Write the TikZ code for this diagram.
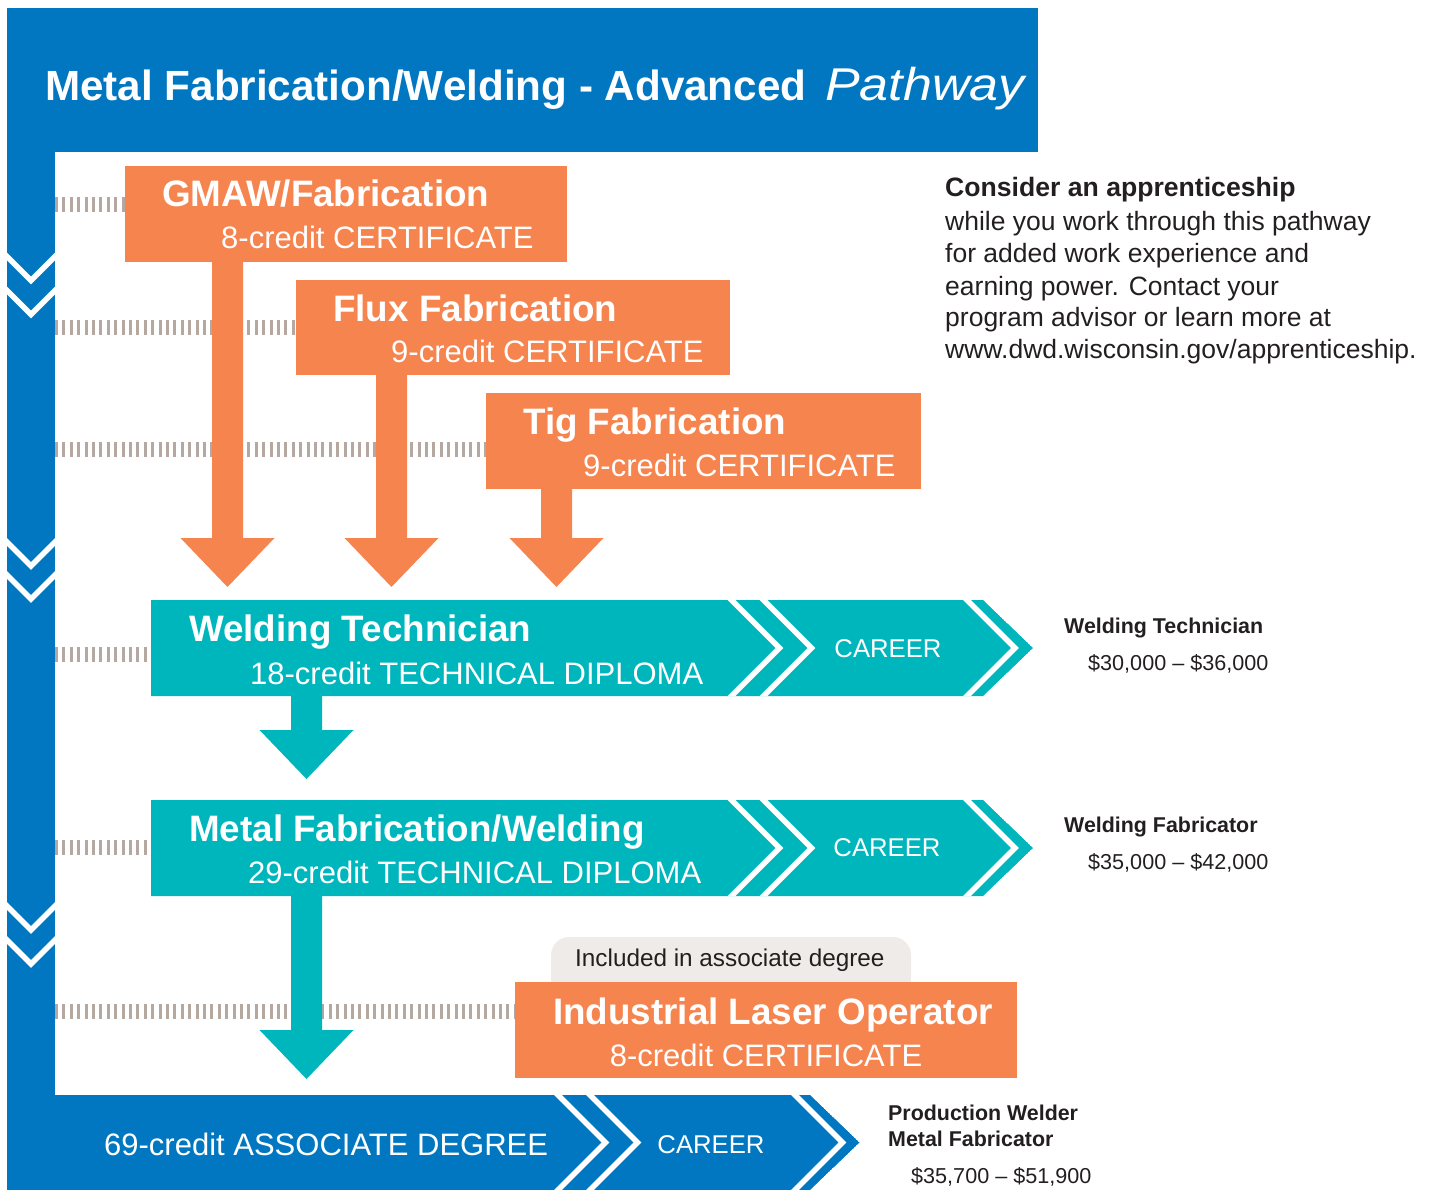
\documentclass[tikz,border=0pt]{standalone}
\usepackage{fontspec}
\setmainfont{Liberation Sans}
\newfontfamily\pathfont{Liberation Sans}[FakeStretch=1.13]
\usetikzlibrary{calc}
\definecolor{blueC}{RGB}{0,119,192}
\definecolor{orangeC}{RGB}{245,132,78}
\definecolor{tealC}{RGB}{0,182,189}
\definecolor{tickC}{RGB}{181,168,160}
\definecolor{pillC}{RGB}{239,235,232}
\definecolor{darkC}{RGB}{35,31,32}
\newcommand\darrow[3]{\fill[#1] let \p1=(#2), \p2=(#3) in
  (\x2-15.5pt,\y1) -- (\x2+15.5pt,\y1) -- (\x2+15.5pt,\y2+49pt) -- (\x2+47pt,\y2+49pt)
  -- (\x2,\y2) -- (\x2-47pt,\y2+49pt) -- (\x2-15.5pt,\y2+49pt) -- cycle;}
\begin{document}
\begin{tikzpicture}[x=1pt,y=-1pt,
  box/.style={inner sep=0pt, outer sep=0pt, anchor=north west},
  obox/.style={box, fill=orangeC},
  ticks/.style={draw=tickC, line width=15pt, dash pattern=on 3pt off 4.4pt},
  chev/.style={draw=white, line width=5.5pt},
  ttl/.style={inner sep=0pt, anchor=base west, text=white, font=\fontsize{36.8}{40}\selectfont\bfseries},
  sub/.style={inner sep=0pt, anchor=base west, text=white, font=\fontsize{31}{34}\selectfont},
  career/.style={inner sep=0pt, anchor=base, text=white, font=\fontsize{25.7}{28}\selectfont},
  salh/.style={inner sep=0pt, anchor=base west, text=darkC, font=\fontsize{21.4}{24}\selectfont\bfseries},
  sal/.style={inner sep=0pt, anchor=base west, text=darkC, font=\fontsize{21.6}{24}\selectfont},
  body/.style={inner sep=0pt, anchor=base west, text=darkC, font=\fontsize{26.5}{30}\selectfont},
]
\useasboundingbox (0,0) rectangle (1437,1190);

% header
\node[box, fill=blueC, minimum width=1031pt, minimum height=144pt] (header) at (7,8) {};
\node[inner sep=0pt, anchor=base west, text=white, font=\fontsize{42.2}{46}\selectfont\bfseries] (title) at (45,101) {Metal Fabrication/Welding - Advanced};
\node[inner sep=0pt, anchor=base west, text=white, font=\pathfont\itshape\fontsize{46}{50}\selectfont] (pathw) at (825,101) {Pathway};

% left bar
\node[box, fill=blueC, minimum width=48pt, minimum height=948pt] (bar) at (7,152) {};
\begin{scope}
  \clip (bar.north west) rectangle (bar.south east);
  \foreach \y in {256.5,290.5,542,575,906,940}
    \draw[chev] (0,{\y-7}) -- (31,{\y+24}) -- (62,{\y-7});
\end{scope}

% boxes (invisible placeholders for names)
\node[box, minimum width=832pt, minimum height=96pt] (wt) at (151,600) {};
\node[box, minimum width=832pt, minimum height=96pt] (mf) at (151,800) {};
\node[box, minimum width=803pt, minimum height=95pt] (assoc) at (7,1095) {};
\node[box, minimum width=442pt, minimum height=96pt] (gmaw) at (125,166) {};
\node[box, minimum width=434pt, minimum height=95pt] (flux) at (296,280) {};
\node[box, minimum width=435pt, minimum height=96pt] (tig) at (486,393) {};
\node[box, minimum width=502pt, minimum height=96pt] (laser) at (515,982) {};

% tick rows
\draw[ticks] ($(bar.east |- gmaw.west)+(0,-9)$) -- ($(gmaw.west)+(0,-9)$);
\draw[ticks] (bar.east |- flux.west) -- (flux.west);
\draw[ticks] ($(bar.east |- tig.west)+(0,8)$) -- ($(tig.west)+(0,8)$);
\draw[ticks] ($(bar.east |- wt.west)+(0,6)$) -- ($(wt.west)+(0,6)$);
\draw[ticks] ($(bar.east |- mf.west)+(0,-1)$) -- ($(mf.west)+(0,-1)$);
\draw[ticks] ($(bar.east |- laser.west)+(0,-19)$) -- ($(laser.west)+(0,-19)$);

% pill
\node[box, fill=pillC, rounded corners=18pt, minimum width=360pt, minimum height=60pt] (pill) at (551,937) {};

% orange boxes
\fill[orangeC] (gmaw.north west) rectangle (gmaw.south east);
\fill[orangeC] (flux.north west) rectangle (flux.south east);
\fill[orangeC] (tig.north west) rectangle (tig.south east);
\fill[orangeC] (laser.north west) rectangle (laser.south east);

% arrows
\coordinate (t1) at ($(wt.north west)+(76.5,-13)$);
\coordinate (t2) at ($(wt.north west)+(240.5,-13)$);
\coordinate (t3) at ($(wt.north west)+(405.5,-13)$);
\coordinate (t4) at ($(mf.north west)+(155.5,-21)$);
\coordinate (t5) at ($(assoc.north west)+(299.5,-16)$);
\darrow{orangeC}{t1 |- gmaw.south}{t1}
\darrow{orangeC}{t2 |- flux.south}{t2}
\darrow{orangeC}{t3 |- tig.south}{t3}
\darrow{tealC}{t4 |- wt.south}{t4}
\darrow{tealC}{t5 |- mf.south}{t5}

% career bars
\foreach \n/\c/\la/\lb/\lc/\d in {wt/tealC/580.5/612.5/816/48, mf/tealC/580.5/612.5/816/48, assoc/blueC/551/583/788/47.5}{
  \begin{scope}
    \path[clip] (\n.north west) -- (\n.north east) -- ($(\n.east)+(\d+2,0)$) -- (\n.south east) -- (\n.south west) -- cycle;
    \fill[\c] (\n.north west) -- (\n.north east) -- ($(\n.east)+(\d+2,0)$) -- (\n.south east) -- (\n.south west) -- cycle;
    \begin{scope}[shift={(\n.north west)}]
      \foreach \lx in {\la,\lb,\lc}
        \draw[chev] ({\lx-12},-12) -- ({\lx+\d},\d) -- ({\lx-12},{2*\d+12});
    \end{scope}
  \end{scope}
}

% box texts
\node[ttl] (gmawT) at ($(gmaw.north west)+(37,41)$) {GMAW/Fabrication};
\node[sub] (gmawS) at ($(gmaw.north west)+(96,83)$) {8-credit CERTIFICATE};
\node[ttl] (fluxT) at ($(flux.north west)+(37,41)$) {Flux Fabrication};
\node[sub] (fluxS) at ($(flux.north west)+(95,82)$) {9-credit CERTIFICATE};
\node[ttl] (tigT) at ($(tig.north west)+(37,41)$) {Tig Fabrication};
\node[sub] (tigS) at ($(tig.north west)+(97,83)$) {9-credit CERTIFICATE};
\node[ttl, anchor=base] (laserT) at ($(laser.north)+(7,42)$) {Industrial Laser Operator};
\node[sub, anchor=base] (laserS) at ($(laser.north)+(0,84)$) {8-credit CERTIFICATE};
\node[inner sep=0pt, anchor=base west, text=darkC, font=\fontsize{24.3}{27}\selectfont] (pillT) at ($(pill.north west)+(24,29)$) {Included in associate degree};

\node[ttl] (wtT) at ($(wt.north west)+(38,41)$) {Welding Technician};
\node[sub] (wtS) at ($(wt.north west)+(99,84)$) {18-credit TECHNICAL DIPLOMA};
\node[career] (wtC) at ($(wt.north west)+(737,57)$) {CAREER};
\node[ttl] (mfT) at ($(mf.north west)+(38,41)$) {Metal Fabrication/Welding};
\node[sub] (mfS) at ($(mf.north west)+(97,83)$) {29-credit TECHNICAL DIPLOMA};
\node[career] (mfC) at ($(mf.north west)+(736,56)$) {CAREER};
\node[sub] (assocS) at ($(assoc.north west)+(97,60)$) {69-credit ASSOCIATE DEGREE};
\node[career] (assocC) at ($(assoc.north west)+(704,58)$) {CAREER};

% salaries
\node[salh] (s1) at (1064,633) {Welding Technician};
\node[sal] (s1v) at (1088,670) {\$30,000 – \$36,000};
\node[salh] (s2) at (1064,832) {Welding Fabricator};
\node[sal] (s2v) at (1088,869) {\$35,000 – \$42,000};
\node[salh] (s3) at (888,1120) {Production Welder};
\node[salh] (s3b) at (888,1146) {Metal Fabricator};
\node[sal] (s3v) at (911,1183) {\$35,700 – \$51,900};

% apprenticeship text
\node[body, font=\fontsize{26.6}{30}\selectfont\bfseries] (ap0) at (945,197) {Consider an apprenticeship};
\node[body] (ap1) at (945,231) {while you work through this pathway};
\node[body] (ap2) at (945,263) {for added work experience and};
\node[body] (ap3) at (945,295) {earning power. Contact your};
\node[body] (ap4) at (945,326.5) {program advisor or learn more at};
\node[body] (ap5) at (945,358) {www.dwd.wisconsin.gov/apprenticeship.};
\end{tikzpicture}
\end{document}
